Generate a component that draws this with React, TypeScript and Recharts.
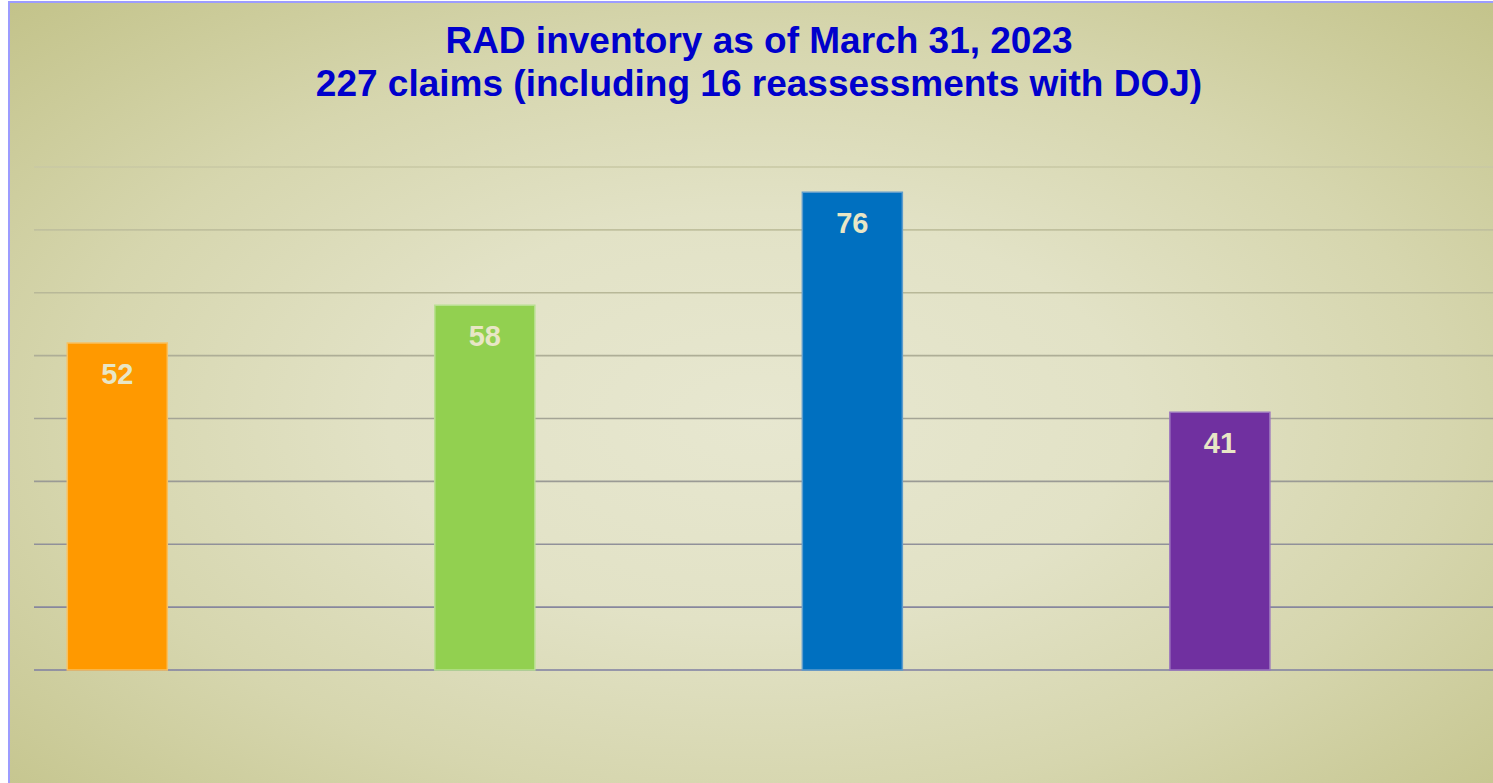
import React from "react";
import { BarChart, Bar, XAxis, YAxis, CartesianGrid, Cell, LabelList } from "recharts";

const titleLines = ["RAD inventory as of March 31, 2023", "227 claims (including 16 reassessments with DOJ)"];
const positions = [0, 1, 2, 3];
const values = [52, 58, 76, 41];
const barColors = ["#FF9900", "#92D050", "#0070C0", "#7030A0"];
const barStrokes = ["#F8C060", "#B8E090", "#5E9CCC", "#9A74BE"];
const yTicks = [0, 10, 20, 30, 40, 50, 60, 70, 80];

const data = positions.map((p, i) => ({ idx: p, value: values[i] }));

const renderLabel = (props: any) => {
  const { x, y, width, value } = props;
  return (
    <text
      x={Number(x) + Number(width) / 2}
      y={Number(y) + 41}
      textAnchor="middle"
      fill="#E8E6C6"
      fontFamily="'Liberation Sans', Arial, sans-serif"
      fontWeight="bold"
      fontSize={29}
    >
      {value}
    </text>
  );
};

const EmptyTick = () => <g />;

export default function App() {
  return (
    <div
      style={{
        position: "fixed",
        left: 0,
        top: 0,
        width: 1493,
        height: 783,
        overflow: "hidden",
        background: "#ffffff",
      }}
    >
      <div
        style={{
          position: "absolute",
          left: 8,
          top: 1,
          width: 1502,
          height: 800,
          borderLeft: "2px solid #9C9CFF",
          borderTop: "2px solid #9C9CFF",
          boxSizing: "border-box",
          background:
            "radial-gradient(ellipse farthest-corner at 50% 52%, #E7E7D0 0%, #E2E2C6 35%, #D6D6AE 65%, #C3C38A 100%)",
        }}
      />
      <svg
        width={1493}
        height={120}
        style={{ position: "absolute", left: 0, top: 0 }}
      >
        {titleLines.map((t, i) => (
          <text
            key={i}
            x={759}
            y={53 + i * 43}
            textAnchor="middle"
            fill="#0000CC"
            fontFamily="'Liberation Sans', Arial, sans-serif"
            fontWeight="bold"
            fontSize={37}
          >
            {t}
          </text>
        ))}
      </svg>
      <div style={{ position: "absolute", left: 0, top: 0 }}>
        <BarChart
          width={1520}
          height={783}
          data={data}
          margin={{ top: 167, right: 10, bottom: 113, left: 34 }}
        >
          <defs>
            <linearGradient id="gridGrad" gradientUnits="userSpaceOnUse" x1="0" y1="167" x2="0" y2="670">
              <stop offset="0%" stopColor="#C8C8A4" />
              <stop offset="25%" stopColor="#B8B898" />
              <stop offset="60%" stopColor="#9C9C94" />
              <stop offset="100%" stopColor="#7E7EA2" />
            </linearGradient>
          </defs>
          <CartesianGrid
            vertical={false}
            horizontalValues={yTicks}
            stroke="url(#gridGrad)"
            strokeWidth={1.6}
          />
          <XAxis
            dataKey="idx"
            type="number"
            domain={[-0.226, 3.79]}
            allowDataOverflow
            hide
          />
          <YAxis
            domain={[0, 80]}
            ticks={yTicks}
            interval={0}
            width={0}
            axisLine={false}
            tickLine={false}
            tick={<EmptyTick />}
          />
          <Bar dataKey="value" barSize={100} isAnimationActive={false} strokeWidth={1.5}>
            {data.map((d, i) => (
              <Cell key={i} fill={barColors[i]} stroke={barStrokes[i]} />
            ))}
            <LabelList dataKey="value" content={renderLabel} />
          </Bar>
        </BarChart>
      </div>
    </div>
  );
}
